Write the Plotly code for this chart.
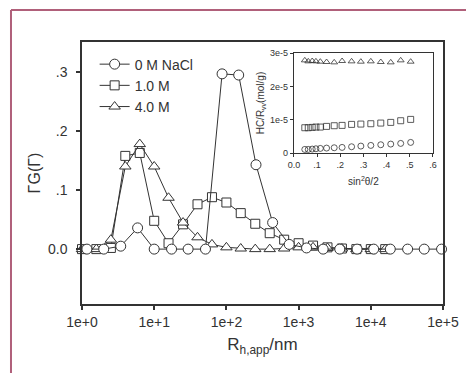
import plotly.graph_objects as go

# ---- main plot data (R_h,app in nm, Gamma G(Gamma)) ----
r_0M = [1.17, 2.0, 3.44, 5.89, 10.0, 17.4, 29.5, 51.3, 87.1, 148, 257, 437, 741,
        1288, 2188, 3715, 6457, 10965, 18621, 32359, 54954, 95499]
g_0M = [0, 0, 0.005, 0.036, 0, 0, 0, 0, 0.297, 0.295, 0.143, 0.045, 0.008,
        0.002, 0, 0, 0, 0, 0, 0, 0, 0]

r_1M = [1.0, 1.58, 2.51, 3.98, 6.31, 10.0, 15.8, 25.1, 39.8, 63.1, 100, 158, 251,
        398, 631, 1000, 1585, 2512, 3981, 6310, 10000, 15849]
g_1M = [0, 0, 0.002, 0.158, 0.163, 0.048, 0.010, 0.042, 0.076, 0.088, 0.079, 0.061,
        0.043, 0.027, 0.016, 0.010, 0.006, 0.003, 0.001, 0, 0, 0]

r_4M = r_1M
g_4M = [0, 0, 0.016, 0.140, 0.178, 0.140, 0.087, 0.045, 0.020, 0.008, 0.003, 0.001,
        0, 0, 0.001, 0.003, 0.003, 0.002, 0.001, 0, 0, 0]

x_ticks = [1, 10, 100, 1000, 10000, 100000]
x_ticktext = ["1e+0", "1e+1", "1e+2", "1e+3", "1e+4", "1e+5"]
y_ticks = [0, 0.1, 0.2, 0.3]
y_ticktext = ["0.0", ".1", ".2", ".3"]

# ---- inset data ----
q2 = [0.047, 0.062, 0.079, 0.095, 0.114, 0.141, 0.174, 0.208, 0.249, 0.289,
      0.332, 0.375, 0.418, 0.461, 0.504]
hc_4M = [2.78e-5, 2.75e-5, 2.76e-5, 2.75e-5, 2.74e-5, 2.73e-5, 2.72e-5, 2.76e-5,
         2.75e-5, 2.74e-5, 2.75e-5, 2.73e-5, 2.72e-5, 2.78e-5, 2.74e-5]
hc_1M = [0.76e-5, 0.76e-5, 0.77e-5, 0.78e-5, 0.78e-5, 0.80e-5, 0.82e-5, 0.83e-5,
         0.86e-5, 0.87e-5, 0.88e-5, 0.90e-5, 0.92e-5, 0.97e-5, 1.01e-5]
hc_0M = [0.11e-5, 0.11e-5, 0.12e-5, 0.13e-5, 0.14e-5, 0.15e-5, 0.16e-5, 0.17e-5,
         0.19e-5, 0.21e-5, 0.23e-5, 0.25e-5, 0.27e-5, 0.29e-5, 0.32e-5]
ix_ticks = [0, 0.1, 0.2, 0.3, 0.4, 0.5, 0.6]
ix_ticktext = ["0.0", ".1", ".2", ".3", ".4", ".5", ".6"]
iy_ticks = [0, 1e-5, 2e-5, 3e-5]
iy_ticktext = ["0", "1e-5", "2e-5", "3e-5"]

INK = "#333333"
FONT = "Liberation Sans, Arial, sans-serif"

fig = go.Figure()

def main_trace(x, y, sym, size, name, rank):
    return go.Scatter(
        x=x, y=y, mode="lines+markers", name=name, cliponaxis=False,
        legendrank=rank,
        line=dict(color=INK, width=1),
        marker=dict(symbol=sym, size=size, color="white",
                    line=dict(color=INK, width=1)),
        xaxis="x", yaxis="y")

fig.add_trace(main_trace(r_1M, g_1M, "square", 9, "1.0 M", 2))
fig.add_trace(main_trace(r_4M, g_4M, "triangle-up", 10, "4.0 M", 3))
fig.add_trace(main_trace(r_0M, g_0M, "circle", 10, "0 M NaCl", 1))

def inset_trace(x, y, sym, size):
    return go.Scatter(
        x=x, y=y, mode="markers", showlegend=False, cliponaxis=False,
        marker=dict(symbol=sym, size=size, color="rgba(0,0,0,0)",
                    line=dict(color=INK, width=0.8)),
        xaxis="x2", yaxis="y2")

fig.add_trace(inset_trace(q2, hc_4M, "triangle-up", 6))
fig.add_trace(inset_trace(q2, hc_1M, "square", 6))
fig.add_trace(inset_trace(q2, hc_0M, "circle", 6))

fig.update_layout(
    width=466, height=373,
    margin=dict(l=82, r=23, t=42, b=69, autoexpand=False),
    paper_bgcolor="white", plot_bgcolor="white",
    font=dict(family=FONT, size=14, color=INK),
    showlegend=True,
    legend=dict(x=0.035, y=0.975, xanchor="left", yanchor="top",
                bgcolor="rgba(0,0,0,0)", font=dict(size=14, color=INK),
                tracegroupgap=0, itemwidth=30),
    xaxis=dict(type="log", range=[0, 5], domain=[0, 1], automargin=False,
               tickvals=x_ticks, ticktext=x_ticktext, ticklabeloverflow="allow",
               ticks="outside", ticklen=4, tickcolor=INK, tickwidth=1.5,
               showline=True, linecolor=INK, linewidth=1.5, mirror=True,
               showgrid=False, zeroline=False,
               tickfont=dict(size=14, color=INK),
               title=dict(text="R<sub>h,app</sub>/nm", font=dict(size=17, color=INK),
                          standoff=10)),
    yaxis=dict(range=[-0.093, 0.351], domain=[0, 1], automargin=False,
               tickvals=y_ticks, ticktext=y_ticktext, ticklabelstandoff=6,
               ticks="outside", ticklen=4, tickcolor=INK, tickwidth=1.5,
               showline=True, linecolor=INK, linewidth=1.5, mirror=True,
               showgrid=False, zeroline=False,
               tickfont=dict(size=14, color=INK),
               title=dict(text="ΓG(Γ)", font=dict(size=16, color=INK), standoff=3)),
    xaxis2=dict(range=[0, 0.6], domain=[0.587, 0.972], anchor="y2", automargin=False,
                tickvals=ix_ticks, ticktext=ix_ticktext, ticklabeloverflow="allow",
                ticks="outside", ticklen=3, tickcolor=INK, tickwidth=1,
                showline=True, linecolor=INK, linewidth=1, mirror=True,
                showgrid=False, zeroline=False,
                tickfont=dict(size=9, color=INK),
                title=dict(text="sin<sup>2</sup>θ/2", font=dict(size=10, color=INK),
                           standoff=9)),
    yaxis2=dict(range=[0, 3e-5], domain=[0.576, 0.958], anchor="x2", automargin=False,
                tickvals=iy_ticks, ticktext=iy_ticktext, ticklabeloverflow="allow",
                ticks="outside", ticklen=3, tickcolor=INK, tickwidth=1,
                showline=True, linecolor=INK, linewidth=1, mirror=True,
                showgrid=False, zeroline=False,
                tickfont=dict(size=9, color=INK),
                title=dict(text="HC/R<sub>vv</sub>(mol/g)", font=dict(size=10, color=INK),
                           standoff=3)),
    shapes=[
        dict(type="line", xref="paper", yref="paper", x0=-0.1967, x1=-0.1967,
             y0=1.122, y1=-0.5, line=dict(color="#b0607a", width=2)),
        dict(type="line", xref="paper", yref="paper", x0=-0.1967, x1=1.3,
             y0=1.122, y1=1.122, line=dict(color="#b0607a", width=2)),
    ],
)

fig.write_html("out.html",
               config={"displayModeBar": False},
               post_script="document.body.style.margin='0';document.body.style.overflow='hidden';")
